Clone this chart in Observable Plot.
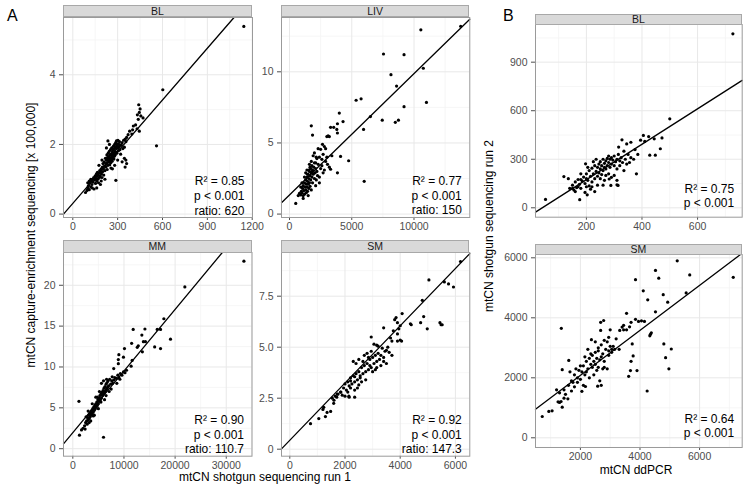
<!DOCTYPE html>
<html><head><meta charset="utf-8">
<script src="https://cdn.jsdelivr.net/npm/d3@7"></script>
<script src="https://cdn.jsdelivr.net/npm/@observablehq/plot@0.6"></script>
<style>
body{margin:0;background:#fff;font-family:"Liberation Sans",Arial,sans-serif;}
#root{position:relative;width:750px;height:488px;overflow:hidden;background:#fff;}
#root svg{position:absolute;}
.strip{position:absolute;box-sizing:border-box;background:#d9d9d9;border:1px solid #a8a8a8;font-size:10.5px;color:#1a1a1a;text-align:center;}
.tag{position:absolute;font-size:16px;line-height:16px;color:#000;}
.ytitle{position:absolute;font-size:12px;white-space:nowrap;color:#000;transform:translate(-50%,-50%) rotate(-90deg);}
.xtitle{position:absolute;font-size:12px;white-space:nowrap;color:#000;transform:translate(-50%,-50%);}
</style></head><body><div id="root"></div>
<script>
// ---------- DATA ----------
const panelNames = ["BL", "LIV", "MM", "SM", "BL", "SM"];
const r2Values = ["0.85", "0.77", "0.90", "0.92", "0.75", "0.64"];
const pValues = ["< 0.001", "< 0.001", "< 0.001", "< 0.001", "< 0.001", "< 0.001"];
const ratioValues = ["620", "150", "110.7", "147.3", null, null];
const intercepts = [0.307, 1.345, 1.97, 0.438, -45.6, 583];
const slopes = [0.00495, 0.000853, 0.000754, 0.001403, 1.0956, 0.7496];
const xTicks = [[0,300,600,900,1200],[0,5000,10000],[0,10000,20000,30000],[0,2000,4000,6000],[200,400,600],[2000,4000,6000]];
const yTicks = [[0,2,4],[0,5,10],[0,5,10,15,20],[0,2.5,5,7.5],[0,300,600,900],[0,2000,4000,6000]];
const xTitleA = "mtCN shotgun sequencing run 1";
const yTitleA = "mtCN capture-enrichment sequencing [x 100,000]";
const xTitleB = "mtCN ddPCR";
const yTitleB = "mtCN shotgun sequencing run 2";

const blA = [[1144,5.39],[602,3.57],[560,1.96],[288,0.97],
[441,3.14],[450,3.02],[445,2.92],[432,2.85],[455,2.82],[470,2.76],[438,2.72],[420,2.56],[405,2.53],[430,2.45],[445,2.38],[400,2.42],[380,2.38],[395,2.3],[370,2.28],[360,2.2],[350,2.15],[355,2.08],[340,2.12],[330,2.05],[325,1.98],[345,1.92],[335,1.88],[355,1.55],[345,1.6],[360,1.45],[350,1.35],[330,1.5],
[85,0.62],[95,0.68],[100,0.75],[105,0.82],[110,0.7],[115,0.9],[120,0.78],[125,0.95],[128,0.85],[130,1.0],[135,0.92],[140,1.05],[142,0.72],[145,0.98],[150,1.1],[152,0.88],[155,1.02],[158,1.15],[160,0.95],[162,1.08],[165,1.2],[168,1.0],[170,1.12],[172,0.9],[175,1.18],[178,1.05],[180,1.25],[182,1.1],[185,0.85],[188,1.2],[190,1.3],[192,1.15],[195,1.05],[198,1.35],[200,1.22],[202,1.45],[205,1.3],[207,1.12],[210,1.5],[212,1.38],[215,1.25],[218,1.6],[220,1.45],[222,1.35],[225,1.55],[228,1.7],[230,1.48],[232,1.62],[235,1.4],[237,1.75],[238,1.55],[240,1.65],[242,1.5],[244,1.8],[245,1.6],[247,1.42],[248,1.7],[250,1.55],[252,1.85],[254,1.62],[255,1.48],[257,1.72],[258,1.58],[260,1.9],[262,1.68],[263,1.52],[265,1.78],[267,1.6],[268,1.85],[270,1.7],[272,1.95],[274,1.75],[275,1.58],[277,1.88],[278,1.66],[280,2.0],[282,1.8],[284,1.7],[285,1.92],[287,2.05],[288,1.78],[290,1.88],[292,2.1],[294,1.95],[295,1.75],[297,2.02],[300,1.9],[302,2.12],[305,1.82],[308,2.0],[310,1.93],[312,2.08],[315,1.85],[318,1.98],[235,2.1],[215,1.0],[190,0.95],[160,0.75],[230,1.28],[255,1.32],[265,1.3],[280,1.4],[300,1.55],[320,1.72],[225,1.9],[245,2.0],[195,1.55],[175,1.4],[120,1.0],[110,0.95],[100,0.9],[130,0.75]];

const livA = [[13750,13.2],[10550,12.95],[7550,11.25],[9200,11.2],[8150,9.8],[10750,10.25],[8600,9.0],[11000,7.85],[9200,7.55],[5350,8.0],[5750,8.1],[6500,6.85],[7450,6.6],[8500,6.45],[8750,6.6],[5950,5.95],[6000,2.3],[4000,7.1],[4300,6.5],[3850,6.35],[3800,5.95],[3850,5.7],[3300,6.1],[3550,6.1],[3000,5.45],[3200,5.45],[3100,5.5],[1750,6.2],[1850,5.55],[4100,4.05],[4750,3.75],[3850,2.9],[2300,4.6],[2500,4.55],[2650,4.9],[2800,4.75],[2900,4.6],[3400,4.1],[3000,4.0],[2700,4.2],[2400,4.0],[3200,3.3],[3050,3.5],[3300,3.15],[2900,3.7],[2600,3.85],[2200,3.9],[2100,3.6],
[500,0.75],[700,1.3],[800,1.45],[900,1.35],[950,1.6],[1000,1.5],[1050,1.8],[1100,1.3],[1100,2.0],[1150,1.65],[1200,2.2],[1200,1.4],[1250,1.9],[1300,2.4],[1300,1.7],[1350,2.1],[1350,1.5],[1400,2.6],[1400,1.9],[1450,2.3],[1450,1.6],[1500,2.8],[1500,2.1],[1550,2.5],[1550,1.8],[1600,3.0],[1600,2.2],[1650,2.7],[1650,1.95],[1700,3.2],[1700,2.4],[1750,2.9],[1750,1.7],[1800,3.4],[1800,2.6],[1850,3.1],[1850,2.2],[1900,2.8],[1950,3.3],[2000,2.5],[2000,3.6],[2050,2.9],[2100,3.2],[2150,2.4],[2200,3.0],[2250,2.7],[2300,3.5],[2400,2.6],[2500,3.2],[2600,3.4],[1300,2.9],[1600,3.5],[1400,3.1],[1750,3.7],[1900,4.1],[2000,4.3],[2150,4.0],[1200,2.6],[1000,2.2],[900,1.9],[1100,1.1],[1500,1.3],[2100,2.0],[2400,2.2],[2700,2.9],[2800,3.1],[1650,3.3],[1850,3.0],[1550,3.1],[1450,2.8]];

const mmA = [[33450,22.95],[21900,19.8],[17800,15.9],[16500,14.6],[17150,14.6],[19100,13.4],[17150,12.25],[16000,12.45],[11800,14.6],[14100,14.65],[13500,13.9],[14200,13.1],[13800,13.1],[11500,12.9],[12800,12.6],[12600,12.4],[13600,11.85],[10100,12.25],[9000,11.5],[9900,11.2],[11600,10.8],[11400,10.1],[8900,10.9],[8900,10.4],[8000,9.8],[1200,5.8],[1300,1.65],[6000,1.4],
[1700,2.3],[2000,2.5],[2300,2.8],[2500,3.2],[2700,3.4],[2900,3.8],[3000,3.5],[3100,4.1],[3200,3.7],[3300,4.3],[3400,3.9],[3500,4.5],[3600,4.1],[3700,4.7],[3800,4.3],[3900,4.9],[4000,4.5],[4100,5.1],[4200,4.7],[4300,5.3],[4400,4.9],[4500,5.5],[4600,5.1],[4700,5.7],[4800,5.3],[4900,6.0],[5000,5.5],[5100,6.2],[5200,5.8],[5300,6.5],[5400,6.0],[5500,6.7],[5600,6.2],[5700,6.9],[5800,6.5],[5900,7.1],[6000,6.7],[6100,7.4],[6200,6.9],[6300,7.6],[6400,7.1],[6500,7.9],[6600,7.3],[6700,8.1],[6800,7.5],[6900,8.3],[7000,7.7],[7200,8.5],[7400,7.9],[7600,8.3],[7800,8.0],[8000,8.4],[8200,8.7],[8500,8.6],[8800,9.0],[9000,8.7],[9300,9.2],[9600,9.0],[9900,9.4],[10200,9.3],[10500,9.6],[5600,8.0],[6000,8.3],[5200,7.0],[4500,6.3],[3800,5.5],[3000,4.6],[2600,3.9],[7100,7.0],[7500,7.3],[6200,6.0],[4200,4.1],[3500,3.4],[2800,3.0],[8600,8.0],[9200,8.5],[4800,6.3],[6600,8.5],[7700,8.8],[2400,2.4],[3200,3.2],[4000,4.0],[5000,4.9],[5500,5.7],[6500,6.5]];

const smA = [[6185,9.2],[5040,8.3],[5600,8.2],[5750,8.1],[5930,7.95],[4800,7.3],[4850,6.5],[4740,6.2],[4980,5.9],[5440,6.2],[5480,6.1],[5520,6.1],[4370,6.15],[4400,6.1],[4070,6.65],[3850,6.45],[3800,6.35],[3900,6.2],[4000,6.05],[3950,5.9],[3400,5.95],[3750,5.8],[3900,5.65],[4050,5.3],[4000,5.35],[3900,5.3],[3700,5.3],[3650,5.45],[2950,5.5],[3050,5.15],[3150,5.1],[3200,5.05],[3350,4.95],[3500,4.85],[3600,4.75],[3550,5.0],
[1850,2.8],[1900,2.65],[1950,3.0],[2000,3.2],[2050,2.9],[2100,3.3],[2150,3.1],[2200,3.5],[2250,3.2],[2300,3.6],[2350,3.3],[2400,3.7],[2450,3.4],[2500,3.8],[2550,3.5],[2600,4.0],[2650,3.7],[2700,4.1],[2750,3.8],[2800,4.2],[2850,3.9],[2900,4.4],[2950,4.0],[3000,4.5],[3050,4.2],[3100,4.6],[3150,4.3],[3200,4.7],[3250,4.4],[3300,4.6],[3400,4.5],[3450,4.8],[2400,4.2],[2500,4.4],[2300,4.3],[2700,4.6],[2800,4.7],[2950,4.8],[2200,3.0],[2450,3.0],[2600,3.3],[2350,2.9],[2150,2.55],[2000,2.6],[3100,3.9],[3300,4.1],[2750,3.4],[2550,3.6],[2650,4.3],[2850,4.5],[3000,3.8],[2100,2.8],[1750,2.7],[1650,2.6],[2900,4.1],[3500,4.2],[3700,4.6],[2500,3.15],[2350,3.55],[2200,3.35],[3150,4.0],[3400,4.3],
[750,1.25],[1050,1.5],[1290,1.6],[1350,1.8],[1230,2.05],[1480,1.85],[1590,2.25],[1540,2.5],[1720,2.7],[1840,2.8],[2140,2.6],[1200,1.95],[1600,2.4],[1700,2.55],[2350,2.55]];

const blB = [[727,1075],[500,550],[405,447],[424,440],[472,432],[444,426],[395,418],[410,410],[466,365],[428,325],[448,325],[328,420],[345,395],[360,405],[316,375],[380,210],[314,138],[310,142],[288,138],[282,178],[290,188],[53,52],[176,50],[203,80],[197,272],[119,193],[135,180],
[140,120],[150,140],[155,110],[160,160],[165,125],[170,175],[175,145],[180,120],[185,165],[190,190],[195,150],[200,210],[205,170],[210,230],[210,135],[215,195],[220,245],[220,160],[225,210],[230,260],[230,180],[235,225],[240,250],[240,195],[245,270],[245,215],[250,240],[250,285],[255,260],[255,205],[260,300],[260,230],[265,275],[265,250],[270,290],[270,240],[275,305],[275,260],[280,280],[280,320],[285,300],[285,250],[290,270],[290,310],[295,295],[300,320],[300,260],[305,285],[310,300],[310,240],[315,330],[320,290],[320,260],[325,310],[330,280],[335,350],[340,300],[345,270],[350,330],[355,280],[360,310],[370,300],[375,360],[385,330],[230,100],[215,115],[195,95],[220,130],[240,140],[265,170],[280,210],[300,200],[250,180],[180,175],[170,130],[160,100],[150,120],[200,130],[260,140],[335,230],[310,170],[270,200],[225,285],[205,250],[235,300],[180,210],[200,180]];

const smB = [[720,710],[940,880],[1050,900],[1360,3650],[5250,5900],[4520,5580],[4630,5320],[3850,5270],[4110,4900],[4260,4600],[5670,5430],[5550,4830],[7130,5350],[4780,4770],[4930,4520],[4520,4200],[3700,3850],[3850,3950],[3950,3880],[4050,3900],[4150,3880],[3550,4150],[4350,3450],[4380,3500],[4330,3400],[4800,3130],[4860,2670],[5050,2960],[4970,2300],[4240,1560],[3620,2050],[3680,2240],[3900,2240],[3700,2550],[3770,2730],[3740,3130],[3320,3580],[3400,3690],[2680,3850],[2780,3910],[3000,3600],[2680,3580],[2370,3270],[3100,3050],[3200,3300],[3450,3750],[3550,3600],[3650,3700],[3050,2950],[2900,2300],[2800,2350],[2700,2700],[2600,3000],
[1700,1900],[1800,2100],[1900,2000],[1950,2250],[2000,1950],[2050,2200],[2100,2400],[2150,2100],[2200,2550],[2250,2300],[2300,2650],[2350,2450],[2400,2750],[2400,2350],[2450,2550],[2500,2850],[2500,2450],[2550,2650],[2600,2900],[2600,2350],[2650,2600],[2700,3100],[2750,2800],[2800,2550],[2850,2950],[2900,3200],[2950,2750],[3000,3050],[3050,2850],[2200,2200],[2300,2000],[2100,1750],[2050,1550],[2450,2100],[2350,2800],[2250,2950],[2150,2700],[2500,3200],[2550,2250],[2650,1900],[2700,1750],[2580,1720],[2170,1710],[1700,1560],[1750,1850],[1800,1700],[1500,1450],[1450,1320],[1580,1300],[1250,1200],[1300,1180],[1350,1210],[1390,1020],[1300,1500],[1450,1600],[1610,2580],[1390,2270],[1200,1600],[1600,1750],[1900,1850],[2000,2400],[2800,3250],[2950,2900],[3150,2950],[1650,2200],[1850,2300],[2750,2300],[2950,3350],[3300,2950],[3450,3600]];

const panelPoints = [blA, livA, mmA, smA, blB, smB];

// ---------- LAYOUT ----------
const layout = [
  {frame:[63,252,16.7,216.7], strip:5,   xDomain:[-62.2,1202], yDomain:[-0.098,5.645], annotDy:-3},
  {frame:[281,469.3,16.7,216.7], strip:5, xDomain:[-643.6,14482], yDomain:[-0.239,13.816], annotDy:-3},
  {frame:[63,251.5,252.3,456], strip:240, xDomain:[-1820,35030], yDomain:[-0.918,24.01], annotDy:-3},
  {frame:[281,469.3,252.3,456], strip:240, xDomain:[-300.7,6521], yDomain:[-0.343,9.642], annotDy:-3},
  {frame:[535,741.7,24,216.7], strip:14, xDomain:[16.9,760.5], yDomain:[-58.1,1132.9], annotDy:-10},
  {frame:[535,741.7,254,447], strip:244, xDomain:[493,7430], yDomain:[-323,6110], annotDy:-10}
];

const root = document.getElementById("root");
const fmtInt = d => String(d);
const fmtY = [fmtInt, fmtInt, fmtInt, d => d === 0 ? "0" : d.toFixed(1), fmtInt, fmtInt];

function minorOf(ticks, dom) {
  const step = ticks[1] - ticks[0];
  const out = [];
  for (let v = ticks[0] - step / 2; v <= dom[1]; v += step) if (v >= dom[0]) out.push(v);
  return out;
}

function addPanel(i) {
  const lay = layout[i];
  const [L, R, T, B] = lay.frame;
  const ml = 40, mr = 4, mb = 24;
  const W = R - L + ml + mr, H = B - T + mb;
  const xd = lay.xDomain, yd = lay.yDomain;
  const a = intercepts[i], b = slopes[i];
  const x0 = Math.max(xd[0], (yd[0] - a) / b);
  const x1 = Math.min(xd[1], (yd[1] - a) / b);
  const linePts = [[x0, a + b * x0], [x1, a + b * x1]];
  const lines = ["R\u00B2 = " + r2Values[i], "p " + pValues[i]];
  if (ratioValues[i]) lines.push("ratio: " + ratioValues[i]);
  const svg = Plot.plot({
    width: W, height: H,
    marginLeft: ml, marginRight: mr, marginTop: 0, marginBottom: mb,
    style: {background: "transparent", overflow: "visible", fontFamily: "'Liberation Sans', Arial, sans-serif", fontSize: "10.5px", color: "#4d4d4d"},
    x: {domain: xd, ticks: xTicks[i], tickFormat: fmtInt, tickSize: 3, tickPadding: 2, label: null},
    y: {domain: yd, ticks: yTicks[i], tickFormat: fmtY[i], tickSize: 4, tickPadding: 4, label: null},
    marks: [
      Plot.ruleX(minorOf(xTicks[i], xd), {stroke: "#f4f4f4", strokeWidth: 0.8}),
      Plot.ruleY(minorOf(yTicks[i], yd), {stroke: "#f4f4f4", strokeWidth: 0.8}),
      Plot.ruleX(xTicks[i], {stroke: "#e8e8e8", strokeWidth: 1}),
      Plot.ruleY(yTicks[i], {stroke: "#e8e8e8", strokeWidth: 1}),
      Plot.dot(panelPoints[i], {x: d => d[0], y: d => d[1], r: 1.6, fill: "#000"}),
      Plot.line(linePts, {x: d => d[0], y: d => d[1], stroke: "#000", strokeWidth: 1.3}),
      Plot.text([lines.join("\n")], {frameAnchor: "bottom-right", dx: -8, dy: lay.annotDy, textAnchor: "end", lineAnchor: "bottom", lineHeight: 1.22, fontSize: 12, fill: "#000"}),
      Plot.frame({stroke: "#9a9a9a"})
    ]
  });
  svg.style.left = (L - ml) + "px";
  svg.style.top = T + "px";
  root.appendChild(svg);
  const s = document.createElement("div");
  s.className = "strip";
  s.textContent = panelNames[i];
  s.style.left = L + "px"; s.style.top = lay.strip + "px";
  s.style.width = (R - L) + "px"; s.style.height = (T - lay.strip + 0.5) + "px";
  s.style.lineHeight = (T - lay.strip - 1.5) + "px";
  root.appendChild(s);
}
for (let i = 0; i < 6; i++) addPanel(i);

function addDiv(cls, text, x, y) {
  const d = document.createElement("div");
  d.className = cls; d.textContent = text;
  d.style.left = x + "px"; d.style.top = y + "px";
  root.appendChild(d);
}
addDiv("tag", "A", 7, 8);
addDiv("tag", "B", 503, 8);
addDiv("xtitle", xTitleA, 265, 477);
addDiv("ytitle", yTitleA, 31, 235);
addDiv("xtitle", xTitleB, 636, 470);
addDiv("ytitle", yTitleB, 489, 226);
</script></body></html>
